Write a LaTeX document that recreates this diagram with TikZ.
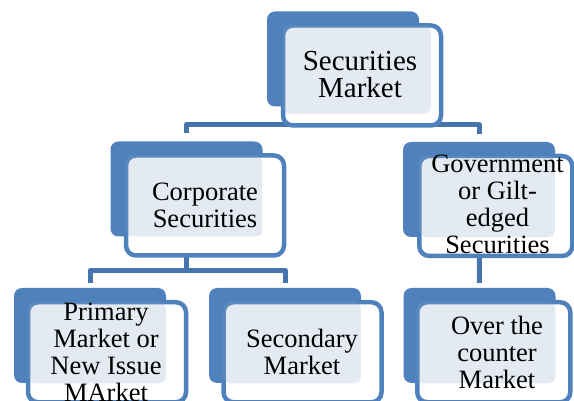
\documentclass[tikz,border=0pt]{standalone}
\usepackage{fontspec}
\setmainfont{Liberation Serif}
\usetikzlibrary{calc,backgrounds,patterns.meta}

\definecolor{boxblue}{HTML}{4F81BD}
\definecolor{linkblue}{HTML}{4674AC}
\definecolor{dotblue}{HTML}{8DA5C6}

\tikzset{
  backbox/.style={fill=boxblue, rounded corners=8pt, minimum width=152pt, minimum height=95pt, inner sep=0pt},
  frontbox/.style={draw=boxblue, line width=4.5pt, fill=white, rounded corners=10pt, minimum width=158pt, minimum height=100pt, inner sep=0pt},
  dotfill/.style={pattern={Dots[distance=2pt, radius=0.7pt]}, pattern color=dotblue, rounded corners=7pt},
  boxtext/.style={font=\fontsize{26.5}{27}\selectfont, align=center, inner sep=0pt, anchor=north},
  link/.style={draw=linkblue, line width=5pt, line join=round},
}

\begin{document}
\begin{tikzpicture}[x=1pt, y=-1pt]
    \useasboundingbox (0,0) rectangle (574,401);

    % First rank: the market as a whole
    \node[backbox] (market_back) at (343,59) {};
    \node[frontbox] (market_front) at (362,75.5) {};

    % Second rank: corporate and government securities
    \node[backbox] (corp_back) at (186.5,189) {};
    \node[frontbox] (corp_front) at (205,205.5) {};
    \node[backbox] (gov_back) at (479,189.5) {};
    \node[frontbox, minimum width=153pt] (gov_front) at (495.75,206) {};

    % Third rank: primary, secondary and over the counter
    \node[backbox] (primary_back) at (90,335.5) {};
    \node[frontbox] (primary_front) at (107,352.25) {};
    \node[backbox] (secondary_back) at (285,335.5) {};
    \node[frontbox] (secondary_front) at (302.5,352.25) {};
    \node[backbox] (otc_back) at (479.5,335.5) {};
    \node[frontbox, minimum width=153pt] (otc_front) at (493.75,352.25) {};

    % Dotted text areas inside the white boxes
    \fill[dotfill] ($(market_front.north west)+(2.25,2.25)$) rectangle ($(market_back.south east)+(12,7)$);
    \fill[dotfill] ($(corp_front.north west)+(2.25,2.25)$) rectangle (corp_back.south east);
    \fill[dotfill] ($(gov_front.north west)+(2.25,2.25)$) rectangle (gov_back.south east);
    \fill[dotfill] ($(primary_front.north west)+(2.25,2.25)$) rectangle (primary_back.south east);
    \fill[dotfill] ($(secondary_front.north west)+(2.25,2.25)$) rectangle (secondary_back.south east);
    \fill[dotfill] ($(otc_front.north west)+(2.25,2.25)$) rectangle (otc_back.south east);

    % Texts
    \node[boxtext, font=\fontsize{29}{27}\selectfont] (market_text) at (360,51.5) {Securities\\Market};
    \node[boxtext] (corp_text) at (205,182.5) {Corporate\\Securities};
    \node[boxtext] (gov_text) at (497.5,155) {Government\\or Gilt-\\edged\\Securities};
    \node[boxtext] (primary_text) at (106,303) {Primary\\Market or\\New Issue\\MArket};
    \node[boxtext] (secondary_text) at (302,329) {Secondary\\Market};
    \node[boxtext] (otc_text) at (497,316) {Over the\\counter\\Market};

    % Connections, behind the boxes
    \begin{scope}[on background layer]
        \coordinate (split_1) at (343,124.5);
        \coordinate (split_2) at (186.5,270.5);

        \draw[link] (market_back.center) -- (split_1);
        \draw[link, shorten >=8pt] (split_1) -| (corp_back.north);
        \draw[link, shorten >=8pt] (split_1) -| (gov_back.north);

        \draw[link] (corp_back.center) -- (split_2);
        \draw[link, shorten >=5pt] (split_2) -| (primary_back.north);
        \draw[link, shorten >=5pt] (split_2) -| (secondary_back.north);

        \draw[link, shorten >=5pt] (gov_back.center) -- (otc_back.north);
    \end{scope}
\end{tikzpicture}
\end{document}
